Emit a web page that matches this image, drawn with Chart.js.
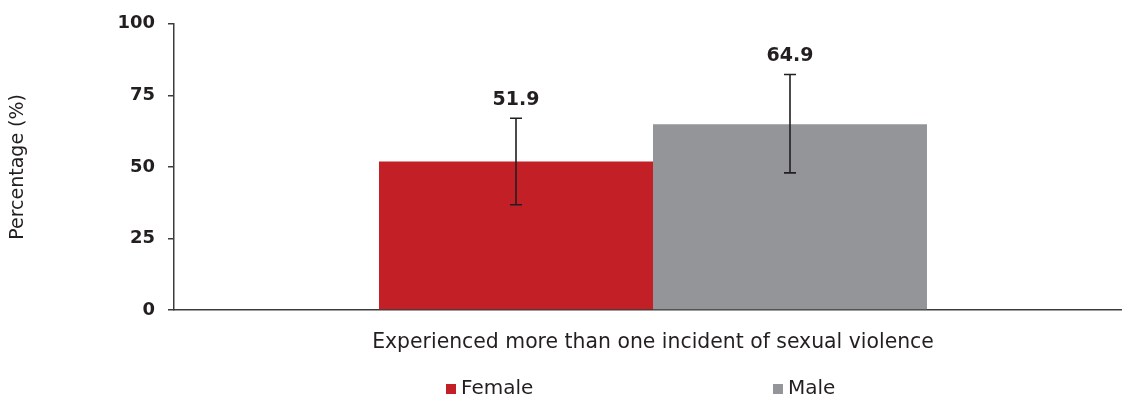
<!DOCTYPE html>
<html>
<head>
<meta charset="utf-8">
<script src="https://cdn.jsdelivr.net/npm/chart.js@4"></script>
<style>
  html, body { margin: 0; padding: 0; background: #fff; overflow: hidden; }
  /* el eje x sigue un poco mas alla del borde derecho */
  #wrap { width: 1132px; height: 399px; position: relative; }
</style>
</head>
<body>
<div id="wrap"><canvas id="chartViolencia"></canvas></div>
<script>
// datos
const categorias = ['Experienced more than one incident of sexual violence'];
const series = ['Female', 'Male'];
const valores = [51.9, 64.9];
const ciBajo = [36.8, 47.9];
const ciAlto = [67.0, 82.3];
const colores = ['#c21f26', '#939598'];
const ticksY = [0, 25, 50, 75, 100];

const FUENTE = '"DejaVu Sans", sans-serif';
const TEXTO = '#231f20';

// barras de error + etiquetas de valor
const errorBars = {
    id: 'errorBars',
    afterDatasetsDraw(chart) {
        const ctx = chart.ctx;
        const y = chart.scales.y;
        chart.data.datasets.forEach((ds, i) => {
            const bar = chart.getDatasetMeta(i).data[0];
            const x = bar.x;
            const top = y.getPixelForValue(ciAlto[i]);
            const bot = y.getPixelForValue(ciBajo[i]);
            ctx.save();
            ctx.strokeStyle = '#231f20';
            ctx.lineWidth = 1.6;
            ctx.beginPath();
            ctx.moveTo(x, top); ctx.lineTo(x, bot);
            ctx.moveTo(x - 6, top); ctx.lineTo(x + 6, top);
            ctx.moveTo(x - 6, bot); ctx.lineTo(x + 6, bot);
            ctx.stroke();
            ctx.fillStyle = TEXTO;
            ctx.font = 'bold 19px ' + FUENTE;
            ctx.textAlign = 'center';
            ctx.textBaseline = 'alphabetic';
            ctx.fillText(valores[i].toFixed(1), x, top - 13);
            ctx.restore();
        });
    }
};

// leyenda abajo, items separados
const leyenda = {
    id: 'leyenda',
    afterDraw(chart) {
        const ctx = chart.ctx;
        const posX = [446, 773];
        const cy = 389;
        ctx.save();
        ctx.font = '20px ' + FUENTE;
        ctx.textBaseline = 'middle';
        ctx.textAlign = 'left';
        chart.data.datasets.forEach((ds, i) => {
            ctx.fillStyle = ds.backgroundColor;
            ctx.fillRect(posX[i], cy - 5, 10, 10);
            ctx.fillStyle = TEXTO;
            ctx.fillText(ds.label, posX[i] + 15, cy);
        });
        ctx.restore();
    }
};

const ctx = document.getElementById('chartViolencia').getContext('2d');
const chartViolencia = new Chart(ctx, {
    type: 'bar',
    data: {
        labels: categorias,
        datasets: series.map((s, i) => ({
            label: s,
            data: [valores[i]],
            backgroundColor: colores[i],
            borderWidth: 0,
            barPercentage: 1.0,
            categoryPercentage: 0.572
        }))
    },
    options: {
        responsive: true,
        maintainAspectRatio: false,
        animation: false,
        layout: { padding: { top: 22, right: 0, left: 0, bottom: 0 } },
        plugins: {
            legend: { display: false },
            tooltip: { enabled: false }
        },
        scales: {
            x: {
                grid: { display: false },
                border: { color: '#3c3c3c', width: 1.5 },
                ticks: {
                    color: TEXTO,
                    padding: 12,
                    font: { family: FUENTE, size: 20.4 }
                },
                afterFit(scale) { scale.height = 89; }
            },
            y: {
                min: 0,
                max: 100,
                afterBuildTicks(scale) { scale.ticks = ticksY.map(v => ({ value: v })); },
                grid: { drawOnChartArea: false, tickLength: 6, color: '#3c3c3c', lineWidth: 1.5 },
                border: { color: '#3c3c3c', width: 1.5 },
                ticks: {
                    color: TEXTO,
                    padding: 13,
                    font: { family: FUENTE, size: 18, weight: 'bold' }
                },
                title: {
                    display: true,
                    text: 'Percentage (%)',
                    color: TEXTO,
                    font: { family: FUENTE, size: 19 },
                    padding: { top: 7, bottom: 0 }
                },
                afterFit(scale) { scale.width = 174; }
            }
        }
    },
    plugins: [errorBars, leyenda]
});
</script>
</body>
</html>
